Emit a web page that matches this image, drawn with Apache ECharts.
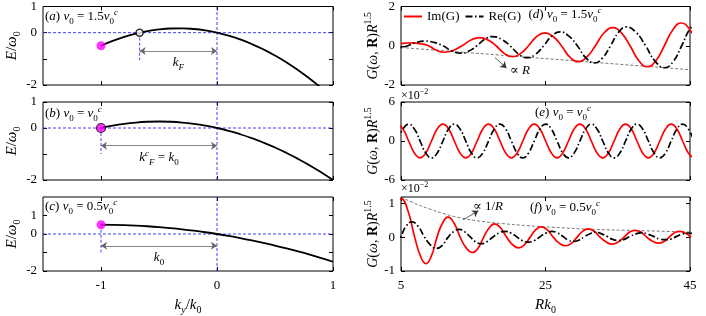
<!DOCTYPE html>
<html><head><meta charset="utf-8">
<script src="https://cdn.jsdelivr.net/npm/echarts@6/dist/echarts.min.js"></script>
<style>html,body{margin:0;padding:0;background:#fff}#c{width:706px;height:316px}</style>
</head><body><div id="c"></div>
<script>
// ---------- data ----------
// left column: dispersion E/w0 vs ky/k0
const kVals = [-1,-0.9,-0.8,-0.7,-0.6,-0.5,-0.4,-0.3,-0.2,-0.1,0,0.1,0.2,0.3,0.4,0.5,0.6,0.7,0.8,0.9,1];
const E_a = [-0.5,-0.315,-0.16,-0.035,0.06,0.125,0.16,0.165,0.14,0.085,0,-0.115,-0.26,-0.435,-0.64,-0.875,-1.14,-1.435,-1.76,-2.115,-2.5];
const E_b = [0,0.09,0.16,0.21,0.24,0.25,0.24,0.21,0.16,0.09,0,-0.11,-0.24,-0.39,-0.56,-0.75,-0.96,-1.19,-1.44,-1.71,-2.0];
const E_c = [0.5,0.495,0.48,0.455,0.42,0.375,0.32,0.255,0.18,0.095,0,-0.105,-0.22,-0.345,-0.48,-0.625,-0.78,-0.945,-1.12,-1.305,-1.5];
const start_a = [-1,-0.5], start_b = [-1,0], start_c = [-1,0.5];
const fermi_a = [-0.667,0];
const guide_a = [[-0.667,0],[-0.667,-1.05]];
const guide_b = [[-1,0],[-1,-1]];
const guide_c = [[-1,0.5],[-1,-1]];
const arrow_a = [[-0.667,-0.7],[0,-0.7]];
const arrow_b = [[-1,-0.68],[0,-0.68]];
const arrow_c = [[-1,-0.64],[0,-0.64]];
const kTicks = [-1,0,1];

// right column: G(w,R) R^1.5 vs R k0
const R_dIm = [5.0,5.6,6.6,7.7,8.8,9.9,11.0,12.23,13.45,14.68,15.9,17.03,18.15,19.28,20.4,21.53,22.65,23.78,24.9,26.05,27.2,28.35,29.5,30.7,31.9,33.1,34.3,35.5,36.7,37.9,39.1,40.28,41.45,42.63,43.8,44.98,46.15];
const G_dIm = [0.11,0.135,0.15,0.1,0,-0.23,-0.33,-0.24,0,0.29,0.41,0.29,0,-0.39,-0.56,-0.4,0,0.47,0.66,0.47,0,-0.57,-0.81,-0.58,0,0.65,0.92,0.66,0,-0.75,-1.07,-0.76,0,0.82,1.16,0.82,0];
const R_dRe = [3.6,4.78,5.95,7.13,8.3,9.55,10.8,12.05,13.3,14.4,15.5,16.6,17.7,18.9,20.1,21.3,22.5,23.63,24.75,25.88,27.0,28.2,29.4,30.6,31.8,32.9,34.0,35.1,36.2,37.53,38.85,40.18,41.5,42.68,43.85,45.03,46.2];
const G_dRe = [-0.14,-0.1,0,0.17,0.24,0.17,0,-0.27,-0.38,-0.27,0,0.33,0.47,0.33,0,-0.43,-0.61,-0.43,0,0.5,0.71,0.5,0,-0.62,-0.88,-0.62,0,0.68,0.96,0.68,0,-0.79,-1.12,-0.8,0,0.87,1.25];
const R_dLin = [5,45];
const G_dLin = [-0.09,-1.22];
const arrow_d = [[18,-0.6],[19.6,-1.14]];

const R_e = [4.48,5.27,6.06,6.85,7.64,8.43,9.22,10.01,10.80,11.59,12.38,13.17,13.96,14.75,15.54,16.33,17.12,17.91,18.70,19.49,20.28,21.07,21.86,22.65,23.44,24.23,25.02,25.81,26.60,27.39,28.18,28.97,29.76,30.55,31.34,32.13,32.92,33.71,34.50,35.29,36.08,36.87,37.66,38.45,39.24,40.03,40.82,41.61,42.40,43.19,43.98,44.77,45.56];
const G_eIm = [2.6,1.84,0,-1.84,-2.6,-1.84,0,1.84, 2.6,1.84,0,-1.84,-2.6,-1.84,0,1.84, 2.6,1.84,0,-1.84,-2.6,-1.84,0,1.84, 2.6,1.84,0,-1.84,-2.6,-1.84,0,1.84, 2.6,1.84,0,-1.84,-2.6,-1.84,0,1.84, 2.6,1.84,0,-1.84,-2.6,-1.84,0,1.84, 2.6,1.84,0,-1.84,-2.6];
const G_eRe = [0,1.84,2.6,1.84,0,-1.84,-2.6,-1.84, 0,1.84,2.6,1.84,0,-1.84,-2.6,-1.84, 0,1.84,2.6,1.84,0,-1.84,-2.6,-1.84, 0,1.84,2.6,1.84,0,-1.84,-2.6,-1.84, 0,1.84,2.6,1.84,0,-1.84,-2.6,-1.84, 0,1.84,2.6,1.84,0,-1.84,-2.6,-1.84, 0,1.84,2.6,1.84,0];

const R_fIm = [4.2,5.05,5.95,6.9,7.7,8.45,9.21,9.98,10.74,11.5,12.35,13.2,14.05,14.9,15.66,16.43,17.19,17.95,18.79,19.63,20.46,21.3,22.08,22.85,23.63,24.4,25.25,26.1,26.95,27.8,28.58,29.35,30.13,30.9,31.74,32.58,33.41,34.25,35.04,35.83,36.61,37.4,38.23,39.05,39.88,40.7,41.4,42.1,42.8,43.5,44.33,45.15];
const G_fIm = [0.8,1.15,0.8,0,-0.56,-0.78,-0.55,0,0.42,0.6,0.42,0,-0.32,-0.45,-0.32,0,0.28,0.4,0.28,0,-0.22,-0.31,-0.22,0,0.22,0.31,0.22,0,-0.18,-0.25,-0.18,0,0.18,0.25,0.18,0,-0.14,-0.2,-0.14,0,0.15,0.21,0.15,0,-0.12,-0.17,-0.12,0,0.13,0.18,0.13,0];
const R_fRe = [4.1,4.9,5.7,6.5,7.36,8.23,9.09,9.95,10.73,11.5,12.28,13.05,13.8,14.55,15.3,16.05,16.89,17.73,18.56,19.4,20.2,21.0,21.8,22.6,23.43,24.25,25.08,25.9,26.65,27.4,28.15,28.9,29.65,30.4,31.15,31.9,32.7,33.5,34.3,35.1,35.9,36.7,37.5,38.3,39.11,39.93,40.74,41.55,42.35,43.15,43.95,44.75,45.55];
const G_fRe = [-0.23,0,0.33,0.46,0.33,0.02,-0.23,-0.33,-0.23,0,0.17,0.24,0.17,0.02,-0.13,-0.19,-0.13,0.01,0.13,0.18,0.13,0.02,-0.1,-0.14,-0.1,0.02,0.13,0.18,0.13,0.03,-0.08,-0.12,-0.08,0.02,0.11,0.16,0.11,0.03,-0.06,-0.09,-0.06,0.03,0.1,0.14,0.1,0.03,-0.05,-0.07,-0.05,0.03,0.1,0.13,0.1];
const R_fInv = [5,7,9,11,13.2,16,19,22.4,26,31.6,38,45];
const G_fInv = [1.2,1.0,0.84,0.7,0.58,0.48,0.41,0.35,0.3,0.24,0.2,0.16];
const arrow_f = [[13.6,0.52],[15.7,0.79]];
const rTicks = [5,25,45];

// ---------- styling / layout ----------
const SERIF = "'Liberation Serif','DejaVu Serif',serif";
function rich(fs){
  const lh = fs + 5, s = Math.round(fs*0.68);
  const base = {fontFamily:SERIF, color:'#000', fontSize:fs, lineHeight:lh, verticalAlign:'middle'};
  const sm = {fontFamily:SERIF, color:'#000', fontSize:s, lineHeight:s};
  return {
    r: Object.assign({}, base),
    i: Object.assign({}, base, {fontStyle:'italic'}),
    b: Object.assign({}, base, {fontWeight:'bold'}),
    sub: Object.assign({}, sm, {verticalAlign:'bottom'}),
    subi: Object.assign({}, sm, {verticalAlign:'bottom', fontStyle:'italic'}),
    sup: Object.assign({}, sm, {verticalAlign:'top'}),
    supi: Object.assign({}, sm, {verticalAlign:'top', fontStyle:'italic'})
  };
}
const pts = (xs, ys) => xs.map((x, i) => [x, ys[i]]);

const rows = [{top:6,height:79},{top:102,height:78},{top:197,height:77}];
const grids = [];
rows.forEach(r => grids.push({left:43, width:290, top:r.top, height:r.height, show:true, borderColor:'#000', borderWidth:1}));
rows.forEach(r => grids.push({left:401, width:289, top:r.top, height:r.height, show:true, borderColor:'#000', borderWidth:1}));

const yCfg = [
  {min:-2, max:1, ticks:[-2,-1,0,1], labels:[-2,0,1]},
  {min:-2, max:1, ticks:[-2,-1,0,1], labels:[-2,0,1]},
  {min:-2, max:2, ticks:[-2,-1,0,1], labels:[-2,0,1]},
  {min:-2, max:2, ticks:[-2,0,2], labels:[-2,0,2]},
  {min:-6, max:6, ticks:[-6,0,6], labels:[-6,0,6]},
  {min:-1, max:1.2, ticks:[-1,0,1], labels:[-1,0,1]}
];
const xAxes = [], yAxes = [];
for (let g = 0; g < 6; g++) {
  const left = g < 3;
  const xmin = left ? -1.5 : 5, xmax = left ? 1 : 45, xt = left ? kTicks : rTicks;
  const bottomRow = (g % 3) === 2;
  const tick = vals => ({show:true, inside:true, length:4, customValues:vals, lineStyle:{color:'#000', width:1}});
  const lab = {fontFamily:SERIF, fontSize:13, color:'#000'};
  const noLine = {show:false, onZero:false};
  xAxes.push({type:'value', gridIndex:g, min:xmin, max:xmax, position:'bottom',
    axisLine:noLine, splitLine:{show:false}, axisTick:tick(xt),
    axisLabel:Object.assign({show:bottomRow, customValues:xt, margin:8}, lab),
    name: bottomRow ? (left ? '{i|k}{subi|y}{r|/}{i|k}{sub|0}' : '{i|Rk}{sub|0}') : '',
    nameLocation:'middle', nameGap:24, nameTextStyle:{rich:rich(15)}});
  xAxes.push({type:'value', gridIndex:g, min:xmin, max:xmax, position:'top',
    axisLine:noLine, splitLine:{show:false}, axisTick:tick(xt), axisLabel:{show:false}});
  const yc = yCfg[g];
  yAxes.push({type:'value', gridIndex:g, min:yc.min, max:yc.max, position:'left',
    axisLine:noLine, splitLine:{show:false}, axisTick:tick(yc.ticks),
    axisLabel:Object.assign({show:true, customValues:yc.labels, margin:6}, lab),
    name: left ? '{i|E}{r|/}{i|ω}{sub|0}' : '{i|G}{r|(}{i|ω}{r|, }{b|R}{r|)}{i|R}{sup|1.5}',
    nameLocation:'middle', nameGap: left ? 20 : 18, nameTextStyle:{rich:rich(left ? 15 : 14)}});
  yAxes.push({type:'value', gridIndex:g, min:yc.min, max:yc.max, position:'right',
    axisLine:noLine, splitLine:{show:false}, axisTick:tick(yc.ticks), axisLabel:{show:false}});
}

const series = [];
const ax = g => ({xAxisIndex:2*g, yAxisIndex:2*g});
const BLUE = '#2a2aff';
function blueLine(g, data){
  series.push(Object.assign({type:'line', data, symbol:'none', silent:true, z:2,
    lineStyle:{color:BLUE, width:0.9, type:[3,2]}}, ax(g)));
}
function dblArrow(g, seg, text){
  series.push(Object.assign({type:'line', data:[], symbol:'none', silent:true, z:4,
    markLine:{silent:true, animation:false, symbol:['arrow','arrow'], symbolSize:6,
      lineStyle:{color:'#666', width:0.8, type:'solid'},
      label:{show:true, position:'insideMiddleBottom', distance:3, formatter:text, rich:rich(13)},
      emphasis:{disabled:true},
      data:[[{coord:seg[0]},{coord:seg[1]}]]}}, ax(g)));
}
const leftP = [
  {E:E_a, start:start_a, border:false, guide:guide_a, arrow:arrow_a, ymax:1, text:'{i|k}{subi|F}'},
  {E:E_b, start:start_b, border:true, guide:guide_b, arrow:arrow_b, ymax:1, text:'{i|k}{supi|c}{subi|F}{r| = }{i|k}{sub|0}'},
  {E:E_c, start:start_c, border:false, guide:guide_c, arrow:arrow_c, ymax:2, text:'{i|k}{sub|0}'}
];
leftP.forEach((p, g) => {
  blueLine(g, [[-1.5,0],[1,0]]);
  blueLine(g, [[0,-2],[0,p.ymax]]);
  blueLine(g, p.guide);
  dblArrow(g, p.arrow, p.text);
  series.push(Object.assign({type:'line', data:pts(kVals, p.E), smooth:true, symbol:'none', silent:true, z:3,
    lineStyle:{color:'#000', width:1.8}}, ax(g)));
  series.push(Object.assign({type:'scatter', data:[p.start], symbol:'circle', symbolSize:9, silent:true, z:5,
    itemStyle:{color:'#ff00ff', borderColor:p.border ? '#000' : '#ff00ff', borderWidth:p.border ? 1.2 : 0}}, ax(g)));
});
series.push(Object.assign({type:'scatter', data:[fermi_a], symbol:'circle', symbolSize:7, silent:true, z:5,
  itemStyle:{color:'#fff', borderColor:'#000', borderWidth:1.5}}, ax(0)));

const redStyle = {color:'#ff0000', width:1.7, type:'solid'};
const blackStyle = {color:'#000', width:1.7, type:[7,2.5,1.5,2.5]};
const thinDash = {color:'#555', width:0.8, type:[3,2]};
function wave(g, name, xs, ys, st){
  series.push(Object.assign({type:'line', name, data:pts(xs, ys), smooth:true, symbol:'none', silent:true, z:3,
    itemStyle:{color:st.color}, lineStyle:st}, ax(g)));
}
function singleArrow(g, seg){
  series.push(Object.assign({type:'line', data:[], symbol:'none', silent:true, z:4,
    markLine:{silent:true, animation:false, symbol:['none','arrow'], symbolSize:6,
      lineStyle:{color:'#333', width:0.8, type:'solid'}, label:{show:false}, emphasis:{disabled:true},
      data:[[{coord:seg[0]},{coord:seg[1]}]]}}, ax(g)));
}
// (d)
series.push(Object.assign({type:'line', data:pts(R_dLin, G_dLin), symbol:'none', silent:true, z:2, lineStyle:thinDash}, ax(3)));
wave(3, 'Im(G)', R_dIm, G_dIm, redStyle);
wave(3, 'Re(G)', R_dRe, G_dRe, blackStyle);
singleArrow(3, arrow_d);
// (e)
wave(4, 'Im(G)', R_e, G_eIm, redStyle);
wave(4, 'Re(G)', R_e, G_eRe, blackStyle);
// (f)
series.push(Object.assign({type:'line', data:pts(R_fInv, G_fInv), smooth:true, symbol:'none', silent:true, z:2, lineStyle:thinDash}, ax(5)));
wave(5, 'Im(G)', R_fIm, G_fIm, redStyle);
wave(5, 'Re(G)', R_fRe, G_fRe, blackStyle);
singleArrow(5, arrow_f);

function txt(x, y, text, fs, align){
  return {type:'text', x, y, silent:true, z:10, style:{text, rich:rich(fs), align:align||'left', verticalAlign:'middle', fill:'#000', font:fs+'px '+SERIF}};
}
const graphic = [
  txt(45, 17, '{r|(}{i|a}{r|) }{i|v}{sub|0}{r| = 1.5}{i|v}{sub|0}{supi|c}', 13),
  txt(45, 114, '{r|(}{i|b}{r|) }{i|v}{sub|0}{r| = }{i|v}{sub|0}{supi|c}', 13),
  txt(45, 207, '{r|(}{i|c}{r|) }{i|v}{sub|0}{r| = 0.5}{i|v}{sub|0}{supi|c}', 13),
  txt(565, 15, '{r|(}{i|d}{r|) }{i|v}{sub|0}{r| = 1.5}{i|v}{sub|0}{supi|c}', 13, 'center'),
  txt(563, 113, '{r|(}{i|e}{r|) }{i|v}{sub|0}{r| = }{i|v}{sub|0}{supi|c}', 13, 'center'),
  txt(565, 208, '{r|(}{i|f}{r|) }{i|v}{sub|0}{r| = 0.5}{i|v}{sub|0}{supi|c}', 13, 'center'),
  txt(401, 96, '{r|×10}{sup|−2}', 12),
  txt(401, 189, '{r|×10}{sup|−2}', 12),
  txt(520, 71, '{r|∝ }{i|R}', 13, 'center'),
  txt(488, 207, '{r|∝ 1/}{i|R}', 13, 'center')
];

const chart = echarts.init(document.getElementById('c'), null, {renderer:'canvas'});
chart.setOption({
  animation:false,
  backgroundColor:'#fff',
  grid:grids, xAxis:xAxes, yAxis:yAxes, series, graphic,
  legend:{data:['Im(G)','Re(G)'], left:403, top:10, padding:0, itemWidth:18, itemHeight:10, itemGap:5,
    itemStyle:{opacity:0},
    selectedMode:false, textStyle:{fontFamily:SERIF, fontSize:13, color:'#000'}}
});
</script></body></html>
